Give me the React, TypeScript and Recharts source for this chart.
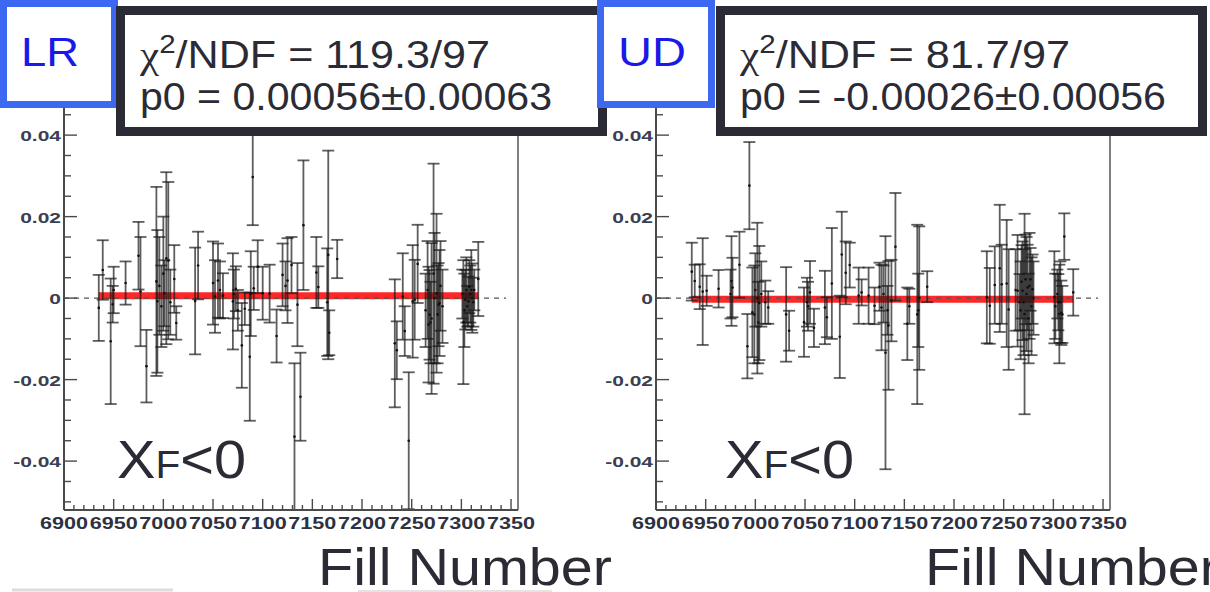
import React from 'react';
import { ScatterChart, Scatter, XAxis, YAxis, ErrorBar, ReferenceLine } from 'recharts';

// ---- LR asymmetry per fill ----
const lrFill = [6935, 6939, 6947, 6949, 6950, 6962, 6975, 6977, 6983, 6993, 6994, 6996, 6998, 7000, 7001, 7003, 7005, 7007, 7011, 7013, 7032, 7035, 7050, 7052, 7055, 7057, 7060, 7070, 7071, 7073, 7075, 7079, 7082, 7087, 7088, 7090, 7091, 7095, 7100, 7107, 7114, 7120, 7123, 7125, 7129, 7132, 7135, 7138, 7141, 7154, 7156, 7165, 7166, 7167, 7175, 7233, 7235, 7241, 7243, 7247, 7251, 7253, 7256, 7264, 7266, 7267, 7268, 7269, 7270, 7272, 7273, 7275, 7276, 7277, 7278, 7279, 7281, 7301, 7302, 7303, 7304, 7305, 7306, 7307, 7308, 7309, 7310, 7311, 7312, 7313, 7317];
const lrAsym = [-0.0024, 0.0069, -0.0106, -0.0015, 0.0020, 0.0037, 0.0104, 0.0016, -0.0167, 0.0041, -0.0008, 0.0030, -0.0020, 0.0060, 0.0012, 0.0098, 0.0092, -0.0010, 0.0047, -0.0061, -0.0007, 0.0080, 0.0037, 0.0004, 0.0043, 0.0020, 0.0006, -0.0008, 0.0010, 0.0023, -0.0030, -0.0116, -0.0026, -0.0144, 0.0011, 0.0297, 0.0024, 0.0077, 0.0012, 0.0011, -0.0093, 0.0057, 0.0030, 0.0043, 0.0081, -0.0340, -0.0016, -0.0242, 0.0179, 0.0063, 0.0027, -0.0010, 0.0106, -0.0085, 0.0096, -0.0111, -0.0128, 0.0004, -0.0081, -0.0350, -0.0008, -0.0004, 0.0084, -0.0030, 0.0020, -0.0065, -0.0041, -0.0060, -0.0050, 0.0060, 0.0000, 0.0012, -0.0040, -0.0016, -0.0012, 0.0030, -0.0020, 0.0010, -0.0059, -0.0030, -0.0004, 0.0020, -0.0020, -0.0008, 0.0028, 0.0010, 0.0020, 0.0000, -0.0010, 0.0020, 0.0047];
const lrErr = [0.0081, 0.0073, 0.0154, 0.0045, 0.0057, 0.0053, 0.0083, 0.0134, 0.0089, 0.0232, 0.0175, 0.0120, 0.0100, 0.0140, 0.0081, 0.0211, 0.0193, 0.0080, 0.0083, 0.0041, 0.0131, 0.0083, 0.0102, 0.0089, 0.0091, 0.0070, 0.0055, 0.0118, 0.0060, 0.0055, 0.0050, 0.0104, 0.0040, 0.0157, 0.0104, 0.0118, 0.0053, 0.0065, 0.0065, 0.0071, 0.0065, 0.0077, 0.0060, 0.0104, 0.0069, 0.0180, 0.0102, 0.0108, 0.0159, 0.0087, 0.0051, 0.0132, 0.0256, 0.0055, 0.0047, 0.0157, 0.0071, 0.0106, 0.0061, 0.0168, 0.0138, 0.0098, 0.0096, 0.0090, 0.0120, 0.0142, 0.0110, 0.0100, 0.0185, 0.0270, 0.0160, 0.0195, 0.0120, 0.0102, 0.0130, 0.0110, 0.0090, 0.0060, 0.0152, 0.0090, 0.0073, 0.0080, 0.0050, 0.0061, 0.0065, 0.0070, 0.0098, 0.0085, 0.0060, 0.0050, 0.0091];

// ---- UD asymmetry per fill ----
const udFill = [6936, 6939, 6944, 6947, 6951, 6963, 6975, 6976, 6977, 6984, 6992, 6994, 6997, 6999, 7000, 7002, 7003, 7004, 7006, 7010, 7013, 7031, 7034, 7049, 7052, 7053, 7055, 7059, 7070, 7072, 7077, 7085, 7087, 7091, 7095, 7104, 7107, 7114, 7120, 7125, 7127, 7129, 7131, 7133, 7134, 7137, 7141, 7153, 7155, 7163, 7164, 7165, 7173, 7233, 7236, 7241, 7246, 7248, 7253, 7255, 7262, 7264, 7266, 7267, 7268, 7269, 7270, 7271, 7272, 7273, 7274, 7275, 7276, 7277, 7278, 7279, 7280, 7301, 7302, 7304, 7305, 7306, 7307, 7308, 7309, 7311, 7320];
const udAsym = [0.0065, 0.0042, 0.0028, 0.0016, 0.0018, 0.0023, 0.0010, 0.0042, 0.0026, 0.0082, -0.0118, 0.0276, -0.0035, -0.0040, 0.0020, 0.0000, -0.0060, -0.0012, 0.0010, -0.0010, -0.0023, -0.0040, -0.0080, -0.0059, -0.0010, -0.0020, 0.0014, -0.0073, -0.0023, -0.0047, 0.0036, -0.0095, 0.0107, 0.0062, 0.0081, 0.0006, 0.0014, 0.0006, -0.0019, 0.0028, -0.0023, 0.0010, -0.0134, -0.0030, -0.0067, -0.0006, 0.0126, -0.0063, -0.0020, -0.0040, -0.0030, 0.0000, 0.0028, 0.0002, -0.0019, 0.0032, 0.0073, 0.0034, 0.0036, -0.0028, 0.0020, 0.0018, -0.0010, -0.0030, 0.0040, 0.0018, -0.0010, -0.0039, 0.0046, 0.0010, 0.0026, -0.0050, 0.0030, 0.0046, -0.0020, 0.0022, 0.0000, 0.0002, -0.0020, 0.0010, -0.0010, -0.0039, -0.0010, -0.0036, -0.0040, 0.0151, 0.0014];
const udErr = [0.0071, 0.0040, 0.0055, 0.0131, 0.0037, 0.0046, 0.0060, 0.0110, 0.0073, 0.0081, 0.0079, 0.0107, 0.0110, 0.0120, 0.0090, 0.0185, 0.0100, 0.0140, 0.0080, 0.0053, 0.0040, 0.0116, 0.0049, 0.0085, 0.0060, 0.0060, 0.0077, 0.0047, 0.0090, 0.0049, 0.0136, 0.0101, 0.0105, 0.0077, 0.0055, 0.0069, 0.0032, 0.0069, 0.0045, 0.0059, 0.0105, 0.0070, 0.0286, 0.0060, 0.0158, 0.0100, 0.0132, 0.0089, 0.0043, 0.0220, 0.0090, 0.0176, 0.0038, 0.0113, 0.0093, 0.0095, 0.0156, 0.0097, 0.0156, 0.0148, 0.0100, 0.0137, 0.0069, 0.0120, 0.0090, 0.0121, 0.0130, 0.0246, 0.0110, 0.0140, 0.0105, 0.0110, 0.0130, 0.0077, 0.0120, 0.0085, 0.0090, 0.0113, 0.0080, 0.0060, 0.0069, 0.0121, 0.0100, 0.0079, 0.0070, 0.0057, 0.0057];

// ---- constant fits ----
const lrP0 = 0.00056;
const udP0 = -0.00026;

// ---- axes ----
const xMajorTicks = [6900, 6950, 7000, 7050, 7100, 7150, 7200, 7250, 7300, 7350];
const yMajorTicks = [-0.04, -0.02, 0, 0.02, 0.04];
const yMajorLabels = ['-0.04', '-0.02', '0', '0.02', '0.04'];
const xDomain: [number, number] = [6900, 7357];
const yDomain: [number, number] = [-0.052, 0.055];

const xTicks: number[] = [];
xMajorTicks.forEach((m, i) => {
  xTicks.push(m);
  if (i < xMajorTicks.length - 1) for (let k = 1; k < 5; k++) xTicks.push(m + k * 10);
});
const yTicks: number[] = [];
for (let k = -50; k <= 50; k += 5) yTicks.push(k / 1000);

const yMajorIndex = (v: number) => yMajorTicks.findIndex((m) => Math.abs(m - v) < 1e-9);
const isXMajor = (v: number) => xMajorTicks.includes(v);

const AXIS = '#4a4a4a';
const TICKFONT = '"Liberation Sans", Arial, sans-serif';

const XTick = (props: any) => {
  const { x, y, payload } = props;
  const v = payload.value as number;
  const major = isXMajor(v);
  return (
    <g>
      <line x1={x} x2={x} y1={y} y2={y - (major ? 11 : 5)} stroke={AXIS} strokeWidth={1.4} />
      {major && (
        <text x={x} y={y + 19} textAnchor="middle" fontSize={16} fontWeight="bold"
          fontFamily={TICKFONT} fill="#2e3140" textLength={48} lengthAdjust="spacingAndGlyphs">
          {v}
        </text>
      )}
    </g>
  );
};

const YTick = (props: any) => {
  const { x, y, payload } = props;
  const v = payload.value as number;
  const idx = yMajorIndex(v);
  const major = idx >= 0;
  return (
    <g>
      <line x1={x} x2={x + (major ? 13 : 7)} y1={y} y2={y} stroke={AXIS} strokeWidth={1.4} />
      {major && (
        <g transform={`translate(${x - 3},${y + 6}) scale(1.4,1)`}>
          <text x={0} y={0} textAnchor="end" fontSize={15} fontWeight="bold"
            fontFamily={TICKFONT} fill="#3a4050">
            {yMajorLabels[idx]}
          </text>
        </g>
      )}
    </g>
  );
};

const Dot = (p: any) => <circle cx={p.cx} cy={p.cy} r={1.3} fill="#111" />;

type PanelProps = { fills: number[]; asym: number[]; errs: number[]; p0: number; left: number };

const Panel = ({ fills, asym, errs, p0, left }: PanelProps) => {
  const rows = fills.map((f, i) => ({ fill: f, asym: asym[i], err: errs[i] }));
  const first = Math.min(...fills);
  const last = Math.max(...fills);
  return (
    <div style={{ position: 'absolute', left, top: 0 }}>
      <ScatterChart width={600} height={592} margin={{ top: 74, right: 82, bottom: 81, left: 63 }}>
        <XAxis type="number" dataKey="fill" domain={xDomain} ticks={xTicks} interval={0}
          allowDataOverflow height={1} tickSize={0} tickMargin={0} tickLine={false}
          axisLine={{ stroke: AXIS, strokeWidth: 2 }} tick={<XTick />} />
        <YAxis type="number" dataKey="asym" domain={yDomain} ticks={yTicks} interval={0}
          allowDataOverflow width={1} tickSize={0} tickMargin={0} tickLine={false}
          axisLine={{ stroke: AXIS, strokeWidth: 2 }} tick={<YTick />} />
        <ReferenceLine x={xDomain[1]} stroke="#808080" strokeWidth={2} />
        <ReferenceLine segment={[{ x: first, y: p0 }, { x: last, y: p0 }]} stroke="#ff1010" strokeWidth={7} strokeOpacity={0.9} />
        <ReferenceLine segment={[{ x: xDomain[0], y: 0 }, { x: 7345, y: 0 }]} stroke="#555" strokeWidth={1.3} strokeDasharray="5 5" />
        <Scatter data={rows} isAnimationActive={false} shape={<Dot />}>
          <ErrorBar dataKey="err" direction="y" width={6} stroke="#1a1a1a" strokeOpacity={0.7} strokeWidth={1.8} isAnimationActive={false} />
        </Scatter>
      </ScatterChart>
    </div>
  );
};

const INK = '#2b2b36';
const SANS = '"Liberation Sans", Arial, Helvetica, sans-serif';

type StatProps = { x: number; chi: string; p0: string; len1: number; len2: number };

const StatBox = ({ x, chi, p0, len1, len2 }: StatProps) => (
  <g>
    <rect x={x + 4.5} y={10.5} width={482} height={121} fill="#fff" stroke={INK} strokeWidth={9} />
    <text x={x + 24} y={68} fontSize={38} fontFamily={SANS} fill={INK} textLength={len1} lengthAdjust="spacingAndGlyphs">
      <tspan fontFamily='"Liberation Serif", serif'>χ</tspan>
      <tspan fontSize={26} dy={-15}>2</tspan>
      <tspan dy={15}>/NDF = {chi}</tspan>
    </text>
    <text x={x + 24} y={110} fontSize={38} fontFamily={SANS} fill={INK} textLength={len2} lengthAdjust="spacingAndGlyphs">
      p0 = {p0}
    </text>
  </g>
);

const TagBox = ({ x, label, len }: { x: number; label: string; len: number }) => (
  <g>
    <rect x={x + 3.5} y={3.5} width={111} height={101} fill="#fff" stroke="#3d68f2" strokeWidth={7} />
    <text x={x + 21} y={66} fontSize={40} fontFamily={SANS} fill="#1a1ae8" textLength={len} lengthAdjust="spacingAndGlyphs">
      {label}
    </text>
  </g>
);

const Region = ({ x }: { x: number }) => (
  <text x={x} y={478} fontFamily={SANS} fill={INK} textLength={129} lengthAdjust="spacingAndGlyphs">
    <tspan fontSize={54}>X</tspan>
    <tspan fontSize={38}>F</tspan>
    <tspan fontSize={54}>&lt;0</tspan>
  </text>
);

export default function App() {
  return (
    <div style={{ position: 'absolute', left: 0, top: 0, width: 1210, height: 592, background: '#fff', overflow: 'hidden' }}>
      <Panel fills={lrFill} asym={lrAsym} errs={lrErr} p0={lrP0} left={0} />
      <Panel fills={udFill} asym={udAsym} errs={udErr} p0={udP0} left={592} />
      <svg width={1210} height={592} style={{ position: 'absolute', left: 0, top: 0, pointerEvents: 'none' }}>
        <TagBox x={0} label="LR" len={58} />
        <StatBox x={116} chi="119.3/97" p0="0.00056±0.00063" len1={350} len2={412} />
        <TagBox x={597} label="UD" len={68} />
        <StatBox x={716} chi="81.7/97" p0="-0.00026±0.00056" len1={330} len2={426} />
        <Region x={117} />
        <Region x={725} />
        <line x1={12} x2={173} y1={590} y2={590} stroke="#dcdcdc" strokeWidth={3} />
        <line x1={358} x2={552} y1={591} y2={591} stroke="#e4e4e4" strokeWidth={2} />
        <text x={318} y={585} fontSize={52} fontFamily={SANS} fill={INK} textLength={294} lengthAdjust="spacingAndGlyphs">Fill Number</text>
        <text x={925} y={585} fontSize={52} fontFamily={SANS} fill={INK} textLength={294} lengthAdjust="spacingAndGlyphs">Fill Number</text>
      </svg>
    </div>
  );
}
